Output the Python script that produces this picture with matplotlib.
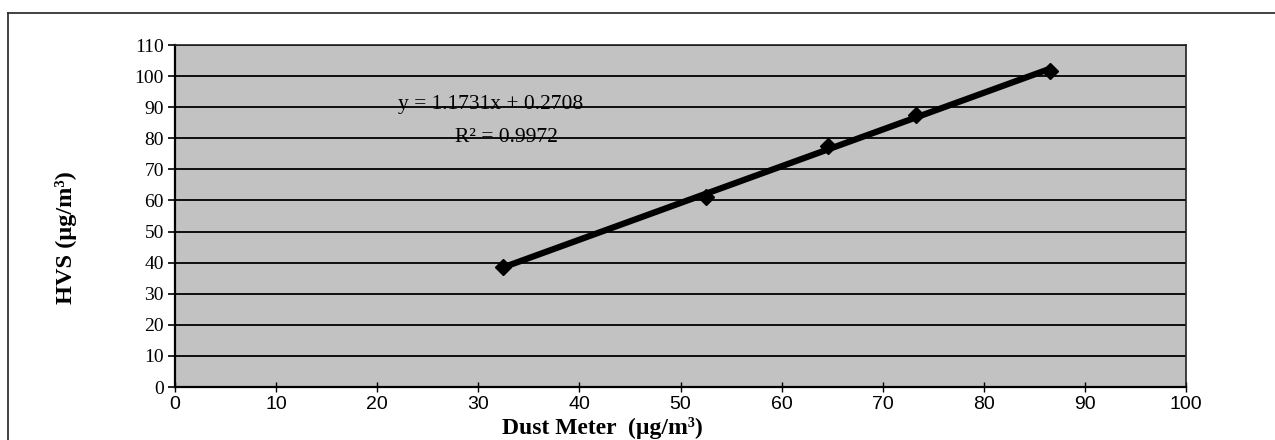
import numpy as np
import matplotlib
matplotlib.use("Agg")
import matplotlib.pyplot as plt
from matplotlib.lines import Line2D
from matplotlib import font_manager

# Data
dust_meter = [32.4, 52.5, 64.6, 73.3, 86.5]
hvs = [38.5, 61.0, 77.5, 87.5, 101.5]
x_ticks = [0, 10, 20, 30, 40, 50, 60, 70, 80, 90, 100]
y_ticks = [0, 10, 20, 30, 40, 50, 60, 70, 80, 90, 100, 110]
eq_text = "y = 1.1731x + 0.2708"
r2_text = "R² = 0.9972"

W, H = 1275, 440
fig = plt.figure(figsize=(W / 100, H / 100), dpi=100)
fig.patch.set_facecolor("white")

ax = fig.add_axes([175 / W, 1 - 387 / H, (1186 - 175) / W, (387 - 45) / H])
ax.set_facecolor("#c2c2c2")

ax.set_xlim(0, 100)
ax.set_ylim(0, 110)
ax.set_xticks(x_ticks)
ax.set_yticks(y_ticks)
ax.yaxis.grid(True, color="black", linewidth=1.3)
ax.set_axisbelow(True)

# trendline (linear fit over data)
coef = np.polyfit(dust_meter, hvs, 1)
xs = np.array([min(dust_meter), max(dust_meter)])
ax.plot(xs, np.polyval(coef, xs), color="black", linewidth=4.5, solid_capstyle="butt", zorder=3)
ax.plot(dust_meter, hvs, linestyle="none", marker="D", markersize=8.5,
        color="black", zorder=4)

serif = ["Liberation Serif", "DejaVu Serif"]
installed = {f.name for f in font_manager.fontManager.ttflist}
narrow = [f for f in ["Liberation Sans Narrow", "Liberation Sans", "DejaVu Sans"] if f in installed]

ax.text((398 - 175) / 1011, (387 - 104) / 342, eq_text, transform=ax.transAxes,
        ha="left", va="center", fontsize=15.5, family=serif, color="black", zorder=5)
ax.text((455 - 175) / 1011, (387 - 137) / 342, r2_text, transform=ax.transAxes,
        ha="left", va="center", fontsize=15.5, family=serif, color="black", zorder=5)

for lab in ax.get_yticklabels():
    lab.set_family(serif)
    lab.set_fontsize(14)
for lab in ax.get_xticklabels():
    lab.set_family(narrow)
    lab.set_fontsize(14)

ax.tick_params(axis="y", direction="out", length=5, width=1.2, pad=3)
ax.tick_params(axis="x", direction="inout", length=7, width=1.0, pad=3)

for s in ["left", "bottom"]:
    ax.spines[s].set_linewidth(1.6)
    ax.spines[s].set_color("black")
for s in ["top", "right"]:
    ax.spines[s].set_linewidth(1.2)
    ax.spines[s].set_color("#222222")

ax.set_xlabel("Dust Meter  (µg/m³)", fontsize=17, fontweight="bold", family=serif)
ax.xaxis.set_label_coords((602 - 175) / 1011, (387 - 428) / 342)
ax.xaxis.label.set_va("center")
ax.set_ylabel("HVS (µg/m³)", fontsize=17.5, fontweight="bold", family=serif)
ax.yaxis.set_label_coords((66 - 175) / 1011, (387 - 238) / 342)
ax.yaxis.label.set_va("center")

# outer chart border
fig.add_artist(Line2D([8 / W, 1.0], [1 - 13 / H, 1 - 13 / H], transform=fig.transFigure,
                      color="#333333", linewidth=1.3))
fig.add_artist(Line2D([8 / W, 8 / W], [1 - 13 / H, 0.0], transform=fig.transFigure,
                      color="#333333", linewidth=1.3))

fig.savefig("out.png", dpi=100, facecolor="white")
